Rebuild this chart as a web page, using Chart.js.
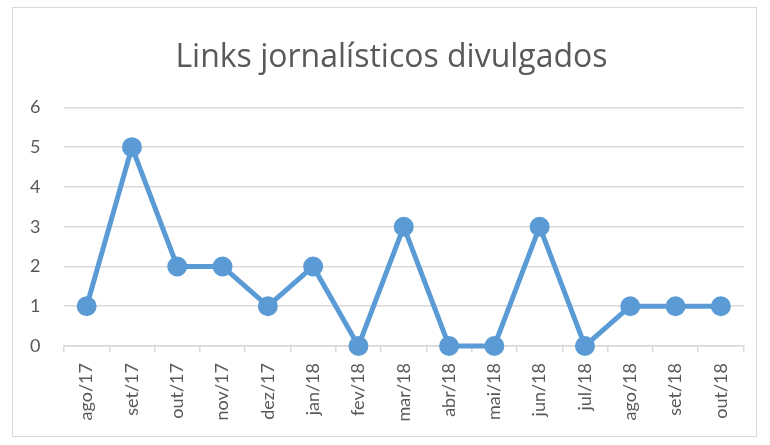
<!DOCTYPE html>
<html>
<head>
<meta charset="utf-8">
<script src="https://cdn.jsdelivr.net/npm/chart.js@4"></script>
<style>
  html, body { margin: 0; padding: 0; background: #fff; }
  .frame {
    position: absolute;
    left: 12px;
    top: 7px;
    width: 743px;
    height: 428px;
    border: 1px solid #d9d9d9;
  }
</style>
</head>
<body>
<div class="frame">
  <canvas id="linksChart" width="743" height="428"></canvas>
</div>
<script>
const months = [
  "ago/17", "set/17", "out/17", "nov/17", "dez/17", "jan/18", "fev/18",
  "mar/18", "abr/18", "mai/18", "jun/18", "jul/18", "ago/18", "set/18", "out/18",
];
const links = [1, 5, 2, 2, 1, 2, 0, 3, 0, 0, 3, 0, 1, 1, 1];
const yTicks = [0, 1, 2, 3, 4, 5, 6];

const ctx = document.getElementById("linksChart");

new Chart(ctx, {
  type: "line",
  data: {
    labels: months,
    datasets: [
      {
        label: "Links",
        data: links,
        borderColor: "#5b9bd5",
        backgroundColor: "#5b9bd5",
        borderWidth: 5,
        pointRadius: 7.5,
        pointHoverRadius: 7.5,
        tension: 0,
        clip: false,
      },
    ],
  },
  options: {
    responsive: false,
    animation: false,
    layout: {
      padding: { left: 17, right: 3, top: 0, bottom: 0 },
    },
    plugins: {
      legend: { display: false },
      tooltip: { enabled: false },
      title: {
        display: true,
        text: "Links jornalísticos divulgados",
        color: "#595959",
        font: { family: "Open Sans", size: 32, weight: "normal" },
        padding: { top: 31, bottom: 30 },
      },
    },
    scales: {
      y: {
        min: 0,
        max: 6,
        afterBuildTicks: (scale) => {
          scale.ticks = yTicks.map((v) => ({ value: v }));
        },
        afterFit: (scale) => {
          scale.width = 34;
        },
        ticks: {
          color: "#595959",
          font: { family: "Lato", size: 18 },
          crossAlign: "far",
        },
        grid: {
          color: "#d9d9d9",
          lineWidth: 1.5,
          drawTicks: false,
        },
        border: { display: false },
      },
      x: {
        offset: true,
        afterFit: (scale) => {
          scale.height = 90;
        },
        ticks: {
          color: "#595959",
          font: { family: "Lato", size: 18 },
          minRotation: 90,
          maxRotation: 90,
          padding: 11,
          autoSkip: false,
        },
        grid: {
          offset: true,
          drawOnChartArea: false,
          color: "#d9d9d9",
          lineWidth: 1.5,
          tickLength: 6,
        },
        border: { color: "#d9d9d9", width: 1.5 },
      },
    },
  },
});
</script>
</body>
</html>
